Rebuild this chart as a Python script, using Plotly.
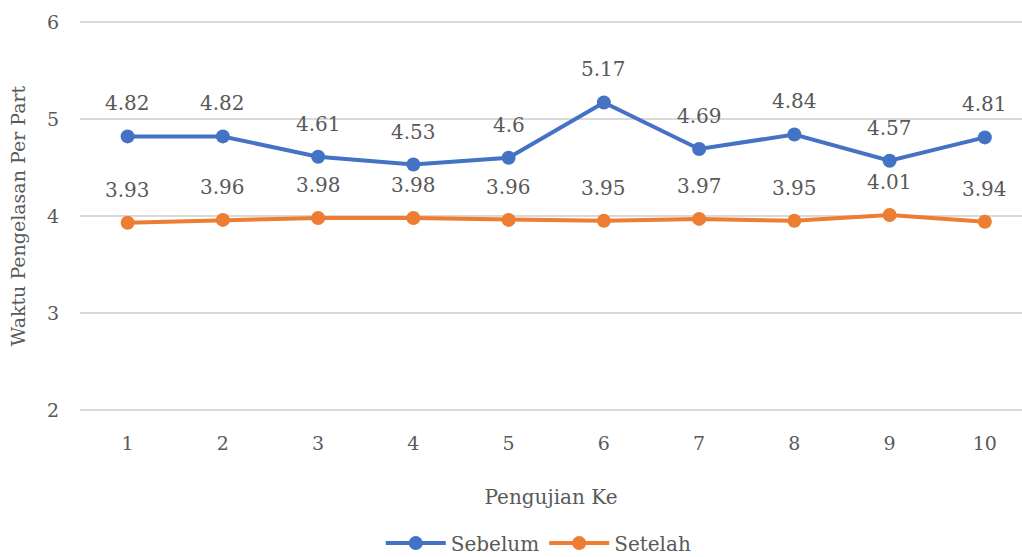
import plotly.graph_objects as go

pengujian = [1, 2, 3, 4, 5, 6, 7, 8, 9, 10]
sebelum = [4.82, 4.82, 4.61, 4.53, 4.60, 5.17, 4.69, 4.84, 4.57, 4.81]
setelah = [3.93, 3.96, 3.98, 3.98, 3.96, 3.95, 3.97, 3.95, 4.01, 3.94]
sebelum_label = ["4.82", "4.82", "4.61", "4.53", "4.6", "5.17", "4.69", "4.84", "4.57", "4.81"]
setelah_label = ["3.93", "3.96", "3.98", "3.98", "3.96", "3.95", "3.97", "3.95", "4.01", "3.94"]

BLUE = "#4472C4"
ORANGE = "#ED7D31"
TEXT = "#595959"
FONT = "DejaVu Serif"

fig = go.Figure()
fig.add_trace(go.Scatter(
    x=pengujian, y=sebelum, name="Sebelum", mode="lines+markers",
    line=dict(color=BLUE, width=4), marker=dict(color=BLUE, size=14),
))
fig.add_trace(go.Scatter(
    x=pengujian, y=setelah, name="Setelah", mode="lines+markers",
    line=dict(color=ORANGE, width=4), marker=dict(color=ORANGE, size=14),
))

# value labels above every point
annotations = []
for xs, ys, labels in ((pengujian, sebelum, sebelum_label), (pengujian, setelah, setelah_label)):
    for x, y, t in zip(xs, ys, labels):
        annotations.append(dict(
            x=x, y=y, text=t, showarrow=False, yshift=33,
            font=dict(family=FONT, size=20, color=TEXT),
        ))

fig.update_layout(
    width=1022, height=557,
    margin=dict(l=80, r=0, t=19, b=144, autoexpand=False),
    paper_bgcolor="white", plot_bgcolor="white",
    font=dict(family=FONT, size=20, color=TEXT),
    annotations=annotations,
    showlegend=True,
    legend=dict(
        orientation="h", x=0.487, xanchor="center",
        yref="container", y=0.025, yanchor="middle",
        font=dict(family=FONT, size=20, color=TEXT),
        itemwidth=60, tracegroupgap=0,
    ),
    xaxis=dict(
        range=[0.5, 10.39], tickmode="array", tickvals=pengujian,
        ticktext=[str(v) for v in pengujian], automargin=False,
        showgrid=False, zeroline=False, showline=False,
        ticks="", ticklabelstandoff=17,
        tickfont=dict(family=FONT, size=19, color=TEXT),
        title=dict(text="Pengujian Ke", standoff=36,
                   font=dict(family=FONT, size=20, color=TEXT)),
    ),
    yaxis=dict(
        range=[1.97, 6.03], tickvals=[2, 3, 4, 5, 6], showgrid=True,
        gridcolor="#D9D9D9", gridwidth=1.5, automargin=False,
        zeroline=False, showline=False, ticks="", ticklabelstandoff=20,
        tickfont=dict(family=FONT, size=19, color=TEXT),
        title=dict(text="Waktu Pengelasan Per Part", standoff=16,
                   font=dict(family=FONT, size=19, color=TEXT)),
    ),
)

fig.write_html("out.html")
